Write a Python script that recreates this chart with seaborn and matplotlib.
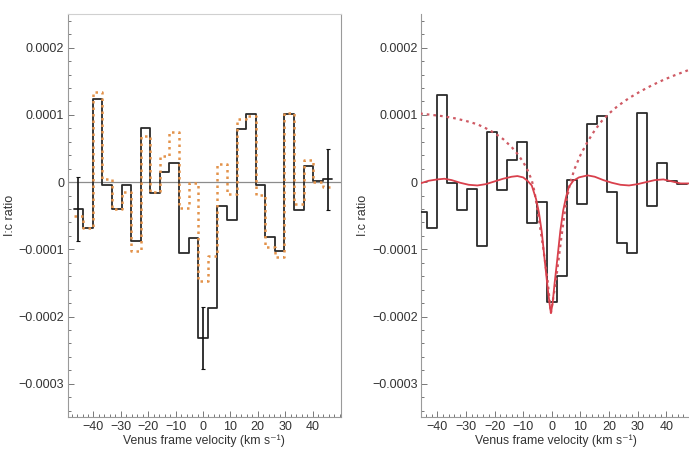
import numpy as np
import pandas as pd
import seaborn as sns
import matplotlib
matplotlib.use('Agg')
import matplotlib.pyplot as plt
from matplotlib.ticker import MultipleLocator, FixedLocator, FixedFormatter

# ---- data (I:c ratio in units of 1e-4) ----
velocity_bins = [-45.5, -42.0, -38.5, -35.0, -31.5, -28.0, -24.5, -21.0, -17.5, -14.0, -10.5, -7.0, -3.5,
                 0.0, 3.5, 7.0, 10.5, 14.0, 17.5, 21.0, 24.5, 28.0, 31.5, 35.0, 38.5, 42.0, 45.5]
bin_width = 3.5

left_observed = [-0.40, -0.68, 1.24, -0.04, -0.40, -0.04, -0.87, 0.80, -0.16, 0.15, 0.28, -1.06, -0.83,
                 -2.32, -1.88, -0.35, -0.57, 0.79, 1.01, -0.05, -0.81, -1.02, 1.01, -0.42, 0.24, 0.01, 0.04]
left_alternate = [-0.50, -0.68, 1.34, 0.05, -0.40, -0.14, -1.02, 0.68, -0.15, 0.39, 0.74, -0.38, -0.01,
                  -1.47, -1.10, 0.27, -0.17, 0.94, 0.98, -0.19, -0.96, -1.11, 1.03, -0.32, 0.33, 0.00, -0.08]

errbar_x = [-45.5, 0.0, 45.5]
errbar_y = [-0.40, -2.32, 0.035]
errbar_err = [0.47, 0.46, 0.455]

right_observed = [-0.45, -0.68, 1.29, -0.01, -0.41, -0.11, -0.95, 0.75, -0.12, 0.33, 0.60, -0.61, -0.30,
                  -1.78, -1.39, 0.03, -0.33, 0.87, 0.98, -0.14, -0.90, -1.06, 1.03, -0.35, 0.29, 0.02, -0.03]

model_x = [-46, -43, -40, -37.5, -35, -32, -29, -26, -23, -20, -17, -14, -12, -10, -8.5, -7, -5.5, -4.5,
           -3.5, -2.5, -1.5, -0.8, -0.3, 0.3, 1.0, 2.0, 3.0, 4.0, 5.0, 6.0, 7.5, 9.5, 12.5, 15, 18, 21, 24,
           27, 30, 33, 36, 39, 42, 45, 48]
model_y = [-0.02, 0.02, 0.04, 0.05, 0.03, -0.01, -0.04, -0.05, -0.03, 0.01, 0.05, 0.08, 0.09, 0.07, 0.02,
           -0.05, -0.25, -0.45, -0.74, -1.15, -1.55, -1.80, -1.95, -1.80, -1.50, -1.12, -0.72, -0.42, -0.22,
           -0.07, 0.02, 0.07, 0.10, 0.08, 0.03, -0.01, -0.04, -0.05, -0.03, 0.00, 0.03, 0.04, 0.01, -0.02,
           -0.02]

broad_x = [-46, -42, -38, -34, -30, -26, -23, -20, -17, -14, -12, -10, -8.5, -7, -6, -4.5, -3, -1.5, -0.3,
           1.5, 3.3, 5, 6.5, 8, 10, 12.5, 15, 17.5, 20, 23, 27, 31, 35, 39, 43, 48]
broad_y = [1.02, 1.00, 0.98, 0.95, 0.91, 0.86, 0.80, 0.73, 0.64, 0.52, 0.42, 0.30, 0.18, 0.03, -0.15,
           -0.55, -0.98, -1.45, -1.95, -1.45, -0.84, -0.30, 0.00, 0.20, 0.40, 0.60, 0.77, 0.91, 1.02, 1.13,
           1.25, 1.35, 1.44, 1.52, 1.59, 1.67]

ytick_vals = [0.0002, 0.0001, 0.0, -0.0001, -0.0002, -0.0003]
ytick_labels = ['0.0002', '0.0001', '0', '\u22120.0001', '\u22120.0002', '\u22120.0003']
xtick_vals = [-40, -30, -20, -10, 0, 10, 20, 30, 40]
xtick_labels = ['\u221240', '\u221230', '\u221220', '\u221210', '0', '10', '20', '30', '40']

scale = 1e-4
edges = [c - bin_width / 2 for c in velocity_bins] + [velocity_bins[-1] + bin_width / 2]

sns.set_style('white')
plt.rcParams['font.family'] = ['Liberation Sans', 'DejaVu Sans']

text_color = '#333333'
spine_color = '#9a9a9a'
black = '#2b2b2b'
orange = '#e3924a'
red = '#d9404c'
red_dot = '#cf5a64'

fig = plt.figure(figsize=(6.89, 4.51), dpi=100)
ax1 = fig.add_axes([0.0983, 0.0745, 0.3966, 0.8944])
ax2 = fig.add_axes([0.611, 0.0745, 0.3913, 0.8944])

df_left = pd.DataFrame({'v': velocity_bins, 'obs': np.array(left_observed) * scale,
                        'alt': np.array(left_alternate) * scale})
df_right = pd.DataFrame({'v': velocity_bins, 'obs': np.array(right_observed) * scale})

# left panel
ax1.axhline(0, color='#8c8c8c', lw=0.9, zorder=1)
sns.histplot(data=df_left, x='v', weights='obs', bins=edges, element='step', fill=False,
             color=black, lw=1.3, ax=ax1, zorder=3)
sns.histplot(data=df_left, x='v', weights='alt', bins=edges, element='step', fill=False,
             color=orange, lw=1.8, ls=(0, (1, 1.6)), ax=ax1, zorder=4)
ax1.errorbar(errbar_x, np.array(errbar_y) * scale, yerr=np.array(errbar_err) * scale, fmt='none',
             ecolor='#111111', elinewidth=1.2, capsize=1.5, capthick=0.8, zorder=5)
ax1.set_xlim(-49.4, 50.4)

# right panel
sns.histplot(data=df_right, x='v', weights='obs', bins=edges, element='step', fill=False,
             color=black, lw=1.3, ax=ax2, zorder=3)
sns.lineplot(x=np.array(broad_x), y=np.array(broad_y) * scale, color=red_dot, lw=1.6,
             ls=(0, (1.2, 1.8)), ax=ax2, zorder=4)
sns.lineplot(x=np.array(model_x), y=np.array(model_y) * scale, color=red, lw=1.3, ax=ax2, zorder=5)
ax2.set_xlim(-45.7, 48.5)

for ax in (ax1, ax2):
    ax.set_ylim(-0.00035, 0.00025)
    ax.yaxis.set_major_locator(FixedLocator(ytick_vals))
    ax.yaxis.set_major_formatter(FixedFormatter(ytick_labels))
    ax.yaxis.set_minor_locator(MultipleLocator(0.00002))
    ax.xaxis.set_major_locator(FixedLocator(xtick_vals))
    ax.xaxis.set_major_formatter(FixedFormatter(xtick_labels))
    ax.xaxis.set_minor_locator(MultipleLocator(2))
    ax.tick_params(which='both', direction='in', color='#777777', labelcolor=text_color,
                   labelsize=9, width=0.7, top=False, right=False, left=True, bottom=True)
    ax.tick_params(which='major', length=4, pad=2.5)
    ax.tick_params(which='minor', length=2)
    for s in ax.spines.values():
        s.set_color(spine_color)
        s.set_linewidth(0.8)
    ax.set_xlabel('Venus frame velocity (km s\u207b\u00b9)', fontsize=8.8, color=text_color, labelpad=1.5)
    ax.set_ylabel('I:c ratio', fontsize=9, color=text_color, labelpad=2)
    ax.set_facecolor('white')

ax1.spines['top'].set_color('#d0d0d0')
ax2.spines['top'].set_visible(False)
ax2.spines['right'].set_visible(False)

fig.savefig('out.png', dpi=100, facecolor='white')
